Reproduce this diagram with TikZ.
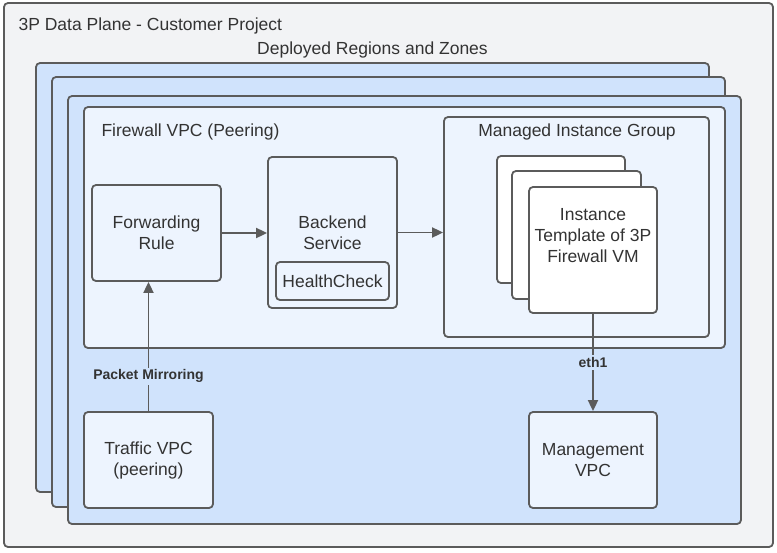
\documentclass[tikz,border=0pt]{standalone}
\usepackage{fontspec}
\setmainfont{Liberation Sans}
\usetikzlibrary{arrows.meta}
\definecolor{edge}{HTML}{5B5B5B}
\definecolor{txt}{HTML}{333333}
\definecolor{projgray}{HTML}{F2F3F5}
\definecolor{zoneblue}{HTML}{D0E3FC}
\definecolor{vpcblue}{HTML}{EDF4FE}
\begin{document}
\begin{tikzpicture}[x=1pt, y=-1pt,
        font=\fontsize{17.5}{21}\selectfont, text=txt,
        box/.style={draw=edge, line width=1.8pt, rounded corners=4pt, inner sep=0pt, align=center},
        lbl/.style={font=\fontsize{14}{16}\selectfont\bfseries, fill=zoneblue, inner sep=2pt},
        link/.style={draw=edge, line width=1.8pt, -{Triangle[length=11pt,width=10pt]}}]
        \useasboundingbox (0,0) rectangle (777,552);

        % Project and zones
        \node[box, fill=projgray, minimum width=769pt, minimum height=544pt] (project) at (388.5,275) {};
        \node[anchor=west] (projtitle) at (15,26) {3P Data Plane - Customer Project};
        \node (zonetitle) at (372.5,50) {Deployed Regions and Zones};
        \node[box, fill=zoneblue, minimum width=673pt, minimum height=429pt] (zone1) at (372.5,277.5) {};
        \node[box, fill=zoneblue, minimum width=673pt, minimum height=430pt] (zone2) at (388.5,292) {};
        \node[box, fill=zoneblue, minimum width=673pt, minimum height=428pt] (zone3) at (404.5,310) {};

        % Firewall VPC
        \node[box, fill=vpcblue, minimum width=641pt, minimum height=241pt] (fwvpc) at (404.5,227.5) {};
        \node[anchor=west] (fwtitle) at (98,132) {Firewall VPC (Peering)};
        \node[box, fill=vpcblue, minimum width=129pt, minimum height=96pt] (fwd) at (156.5,233) {Forwarding\\Rule};
        \node[box, fill=vpcblue, minimum width=129pt, minimum height=151pt] (backend) at (332.5,232.5) {Backend\\Service};
        \node[box, fill=vpcblue, minimum width=113pt, minimum height=38pt] (health) at (332.5,281) {HealthCheck};

        % Managed instance group
        \node[box, fill=vpcblue, minimum width=265pt, minimum height=220pt] (mig) at (576.5,227) {};
        \node (migtitle) at (577,132) {Managed Instance Group};
        \node[box, fill=white, minimum width=128pt, minimum height=127pt] (card1) at (561,219.5) {};
        \node[box, fill=white, minimum width=129pt, minimum height=128pt] (card2) at (576.5,235) {};
        \node[box, fill=white, minimum width=128pt, minimum height=126pt] (card3) at (593,250) {};
        \node[align=center] (template) at (593,236) {Instance\\Template of 3P\\Firewall VM};

        % Outside VPCs
        \node[box, fill=vpcblue, minimum width=129pt, minimum height=96pt] (traffic) at (148.5,460) {Traffic VPC\\(peering)};
        \node[box, fill=vpcblue, minimum width=128pt, minimum height=96pt] (mgmt) at (593,460) {Management\\VPC};

        % Arrows
        \draw[link] (fwd.east) -- (fwd.east -| backend.west);
        \draw[link] (backend.east) -- (backend.east -| mig.west);
        \draw[link] (traffic.north) -- node[lbl, pos=0.27] (mirror) {Packet Mirroring} (traffic.north |- fwd.south);
        \draw[link] (card3.south) -- node[lbl] (eth) {eth1} (mgmt.north);
\end{tikzpicture}
\end{document}
